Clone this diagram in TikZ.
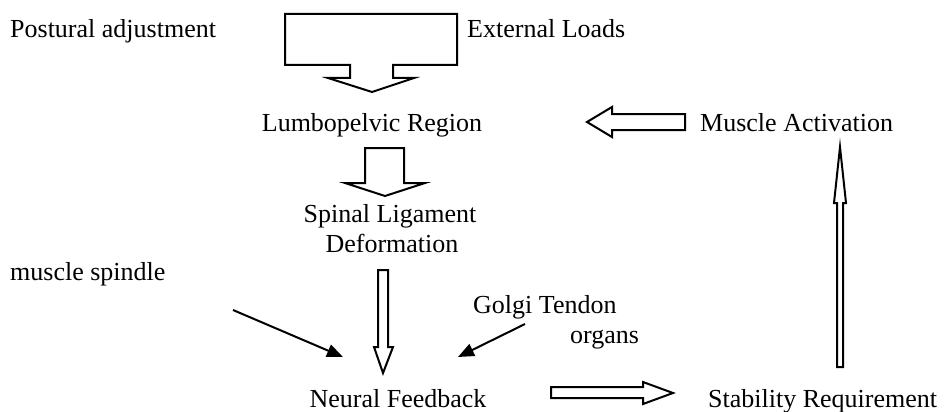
\documentclass[tikz,border=0pt]{standalone}
\usepackage{fontspec}
\setmainfont{Liberation Serif}
\usetikzlibrary{arrows.meta}
\begin{document}
\begin{tikzpicture}[x=1pt,y=-1pt,
  lbl/.style={inner sep=0pt,font=\fontsize{26}{30}\selectfont},
  blockarrow/.style={draw=black,line width=2pt,fill=white,line join=miter},
  thinarrow/.style={draw=black,line width=2pt,-{Triangle[length=16pt,width=13pt]}}]
\useasboundingbox (0,0) rectangle (945,412);
% labels
\node[lbl,anchor=base west] (pa) at (10,38) {Postural adjustment};
\node[lbl,anchor=base west] (el) at (467,38) {External Loads};
\node[lbl,anchor=base] (lr) at (372,131) {Lumbopelvic Region};
\node[lbl,anchor=base west] (ma) at (700,131) {Muscle Activation};
\node[lbl,anchor=base] (sl) at (390,222) {Spinal Ligament};
\node[lbl,anchor=base] (sd) at (392,252) {Deformation};
\node[lbl,anchor=base west] (ms) at (10,280) {muscle spindle};
\node[lbl,anchor=base west] (gt) at (473,313) {Golgi Tendon};
\node[lbl,anchor=base west] (go) at (570,343) {organs};
\node[lbl,anchor=base] (nf) at (398,407) {Neural Feedback};
\node[lbl,anchor=base west] (sr) at (708,407) {Stability Requirement};
% block arrows
\draw[blockarrow] (285,14) -- (457,14) -- (457,65) -- (393,65) -- (393,78) -- (414,78)
  -- (372,92) -- (328,78) -- (350,78) -- (350,65) -- (285,65) -- cycle;
\draw[blockarrow] (365,148) -- (404,148) -- (404,183) -- (425,183) -- (385,196)
  -- (345,183) -- (365,183) -- cycle;
\draw[blockarrow] (378,270) -- (388,270) -- (388,347) -- (393,347) -- (383,373)
  -- (374,347) -- (378,347) -- cycle;
\draw[blockarrow] (551,387) -- (643,387) -- (643,382) -- (673,393) -- (643,404)
  -- (643,398) -- (551,398) -- cycle;
\draw[blockarrow] (685,114) -- (612,114) -- (612,107) -- (587,122) -- (612,137)
  -- (612,130) -- (685,130) -- cycle;
\draw[blockarrow] (837,367) -- (837,203) -- (834,203) -- (840,147) -- (846,203)
  -- (843,203) -- (843,367) -- cycle;
% thin arrows
\coordinate (msS) at (233,310);
\coordinate (msE) at (343,357);
\coordinate (gtS) at (525,324);
\coordinate (gtE) at (458,357);
\draw[thinarrow] (msS) -- (msE);
\draw[thinarrow] (gtS) -- (gtE);
\end{tikzpicture}
\end{document}
